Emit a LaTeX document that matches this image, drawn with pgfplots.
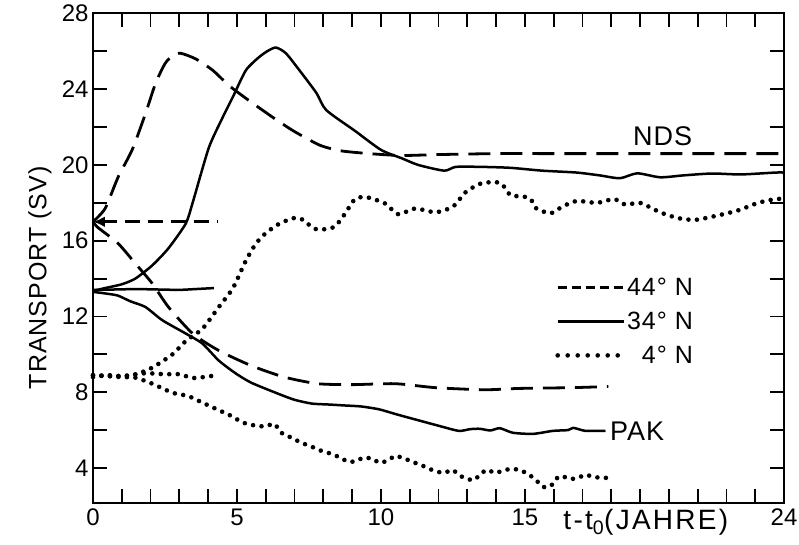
\documentclass[border=0pt]{standalone}
\usepackage{fontspec}
\setmainfont{Liberation Sans}
\newfontfamily\spaced{Liberation Sans}[LetterSpace=4]
\newfontfamily\wide{Liberation Sans}[LetterSpace=8]
\usepackage{pgfplots}
\pgfplotsset{compat=1.18}
\usetikzlibrary{arrows.meta}

\newcommand{\lbl}{\fontsize{24}{27}\selectfont}
\newcommand{\txt}{\spaced\fontsize{25}{28}\selectfont}

\tikzset{
  longdash/.style={line width=2.8pt, dash pattern=on 22pt off 10pt},
  shortdash/.style={line width=2.8pt, dash pattern=on 15pt off 8pt},
  fullline/.style={line width=2.5pt},
  dots/.style={line width=4.6pt, line cap=round, dash pattern=on 0pt off 8.5pt},
}

\begin{document}
\begin{tikzpicture}
\begin{axis}[
  scale only axis, width=691pt, height=489.5pt,
  xmin=0, xmax=24, ymin=2.15, ymax=28,
  clip=false,
  axis line style={line width=2pt},
  tick align=inside,
  major tick length=14pt, minor tick length=14pt,
  every tick/.style={line width=1.8pt, black},
  xtick={0,5,10,15,24},
  major x tick style={draw=none},
  minor xtick={1,2,...,23},
  ytick={4,8,...,28},
  minor ytick={6,10,...,26},
  xticklabel pos=bottom, yticklabel pos=left,
  /pgf/number format/assume math mode=true,
  ticklabel style={font=\lbl},
  xticklabel style={yshift=-2pt},
  yticklabel style={xshift=-1pt},
  every axis y label/.style={at={(axis description cs:-0.077,0.46)}, rotate=90, anchor=center, font=\txt},
  ylabel={TRANSPORT (SV)},
  legend style={draw=none, fill=none, at={(axis cs:15.95,14.2)}, anchor=north west,
    font=\txt, row sep=13pt, nodes={inner sep=1pt}},
  legend cell align=right,
  legend image code/.code={\draw[#1] (0pt,0pt) -- (66pt,0pt);},
]

% legend samples
\addlegendimage{shortdash, dash pattern=on 9pt off 5pt}
\addlegendentry{44° N}
\addlegendimage{fullline}
\addlegendentry{34° N}
\addlegendimage{dots, dash pattern=on 0pt off 10pt}
\addlegendentry{\ 4° N}

% initial values (short reference lines)
\addplot[shortdash, black, forget plot]
  coordinates {(0.3,17.0) (4.3,17.0)};
\addplot[line width=2.5pt, black, arrows={Latex[length=12pt,width=11pt]-}, forget plot]
  coordinates {(0,17.0) (0.5,17.0)};
\addplot[fullline, black, forget plot]
  coordinates {(0,13.4) (1.5,13.45) (3.0,13.4) (4.2,13.5)};
\addplot[dots, black, forget plot, smooth, tension=0.4]
  coordinates {(0,8.9) (1.0,8.85) (1.8,9.0) (2.5,8.95) (3.0,8.95) (3.5,8.75) (4.3,8.9)};

% NDS, 44 N
\addplot[longdash, black, smooth, tension=0.4, forget plot] coordinates {
 (0,17.0) (0.42,17.7) (0.87,19.35) (1.36,20.8) (1.82,22.7) (2.17,24.3) (2.5,25.35)
 (2.75,25.75) (3.04,25.9) (3.57,25.6) (4.16,25.0) (4.72,24.2) (5.42,23.4) (6.26,22.5)
 (6.96,21.8) (7.87,21.05) (8.6,20.75) (9.6,20.6) (10.7,20.5) (12,20.55) (14,20.6)
 (16,20.6) (18,20.6) (20,20.6) (22,20.6) (24,20.6)};
% NDS, 34 N
\addplot[fullline, black, smooth, tension=0.4, forget plot] coordinates {
 (0,13.35) (0.42,13.5) (1.0,13.7) (1.47,14.0) (2.06,14.7) (2.62,15.6) (3.22,16.9)
 (3.46,18.0) (4.02,20.9) (4.5,22.5) (4.86,23.6) (5.31,25.0) (5.77,25.7) (6.1,26.05)
 (6.36,26.2) (6.7,25.9) (7.17,25.0) (7.76,23.8) (8.1,22.9) (9.1,21.8) (10.0,20.8)
 (10.73,20.35) (11.3,20.0) (12.2,19.7) (12.6,19.9) (13.5,19.9) (14.5,19.85) (15.6,19.7)
 (16.8,19.6) (17.6,19.45) (18.3,19.3) (18.9,19.56) (19.7,19.35) (20.5,19.45)
 (21.5,19.55) (22.5,19.5) (23.7,19.6) (24,19.6)};
% NDS, 4 N
\addplot[dots, black, smooth, tension=0.4, forget plot] coordinates {
 (0,8.8) (0.5,8.9) (1.0,8.85) (1.5,8.95) (2.06,9.3) (2.76,10.0) (3.22,10.7) (3.8,11.35)
 (4.37,12.5) (4.86,13.5) (5.31,14.95) (5.66,15.85) (6.0,16.4) (6.47,16.9) (6.99,17.2)
 (7.3,17.1) (7.66,16.65) (8.0,16.6) (8.4,16.75) (8.74,17.4) (9.1,18.2) (9.5,18.3)
 (10.14,17.97) (10.6,17.4) (11.19,17.7) (11.9,17.5) (12.5,17.8) (12.94,18.56)
 (13.43,19.0) (13.9,19.1) (14.2,19.0) (14.5,18.4) (14.9,18.35) (15.2,18.2) (15.4,17.7)
 (15.9,17.45) (16.3,17.8) (16.8,18.1) (17.5,18.0) (18.1,18.2) (18.5,17.9) (19.0,18.0)
 (19.7,17.5) (20.3,17.2) (20.9,17.1) (21.6,17.3) (22.4,17.6) (23.1,18.0) (23.7,18.2)
 (24,18.2)};

% PAK, 44 N
\addplot[longdash, black, smooth, tension=0.4, forget plot] coordinates {
 (0,17.0) (0.17,16.7) (0.87,15.86) (1.47,14.8) (2.06,13.74) (2.62,12.5) (3.46,11.1)
 (4.37,10.2) (5.5,9.4) (6.64,8.8) (7.8,8.45) (9.0,8.4) (10.5,8.45) (11.9,8.24)
 (13.6,8.13) (14.8,8.2) (16.6,8.24) (17.9,8.3)};
% PAK, 34 N
\addplot[fullline, black, smooth, tension=0.4, forget plot] coordinates {
 (0,13.3) (0.5,13.2) (0.87,13.1) (1.3,12.8) (1.82,12.5) (2.41,11.8) (3.22,11.1)
 (3.8,10.57) (4.37,9.67) (4.97,8.98) (5.5,8.5) (6.43,7.92) (7.0,7.6) (7.6,7.4)
 (8.2,7.35) (8.74,7.3) (9.3,7.25) (9.93,7.1) (10.5,6.85) (11.1,6.6) (12.0,6.23)
 (12.7,5.96) (13.1,6.05) (13.43,6.07) (13.8,5.98) (14.13,6.1) (14.58,5.86) (15.28,5.8)
 (15.98,5.96) (16.5,6.0) (16.68,6.12) (17.1,5.96) (17.8,5.96)};
% PAK, 4 N
\addplot[dots, black, smooth, tension=0.4, forget plot] coordinates {
 (0,8.9) (0.5,8.85) (1.0,8.8) (1.47,8.77) (2.06,8.45) (2.76,7.97) (3.3,7.8) (3.8,7.45)
 (4.3,7.1) (4.8,6.75) (5.2,6.4) (5.66,6.23) (6.0,6.2) (6.3,6.33) (6.54,5.86) (6.89,5.6)
 (7.24,5.33) (7.6,5.12) (7.94,4.9) (8.29,4.74) (8.58,4.55) (8.88,4.32) (9.16,4.38)
 (9.4,4.55) (9.7,4.48) (9.97,4.27) (10.28,4.43) (10.5,4.64) (10.84,4.48) (11.19,4.27)
 (11.54,4.06) (11.85,3.85) (12.2,3.74) (12.48,3.9) (12.76,3.58) (13.0,3.42)
 (13.25,3.37) (13.46,3.69) (13.7,3.9) (13.95,3.74) (14.23,3.85) (14.5,3.95) (14.8,3.9)
 (15.1,3.69) (15.38,3.37) (15.63,3.0) (15.9,3.05) (16.08,3.42) (16.26,3.58) (16.57,3.42)
 (16.85,3.48) (17.1,3.64) (17.38,3.53) (17.66,3.48) (17.97,3.48)};

\node[anchor=west, inner sep=0pt, font=\spaced\fontsize{27}{30}\selectfont] at (axis cs:18.75,21.5) {NDS};
\node[anchor=west, inner sep=0pt, font=\spaced\fontsize{27}{30}\selectfont] at (axis cs:17.95,5.96) {PAK};
\node[anchor=north, inner sep=0pt, font=\wide\fontsize{28}{30}\selectfont] at (axis cs:19.2,2.15)
  [yshift=-6pt] {t-t\textsubscript{0}(JAHRE)};
\end{axis}
\pgfresetboundingbox
\path[use as bounding box] ([shift={(-93pt,-42pt)}]current axis.south west)
  rectangle ([shift={(15pt,13.5pt)}]current axis.north east);
\end{tikzpicture}
\end{document}
